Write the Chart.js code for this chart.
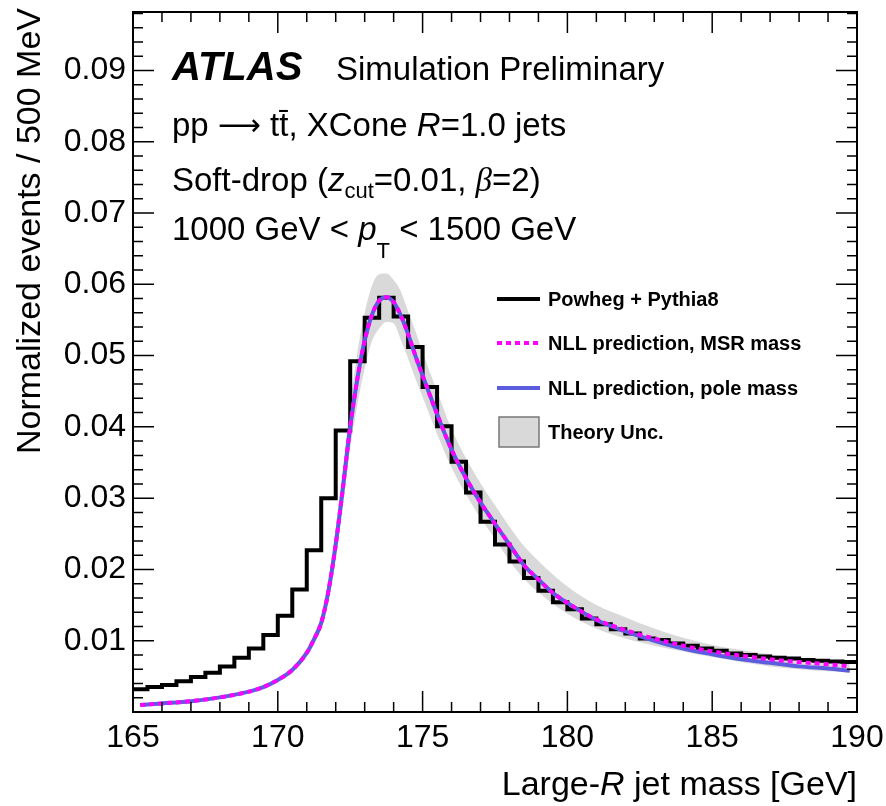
<!DOCTYPE html>
<html>
<head>
<meta charset="utf-8">
<script src="https://cdn.jsdelivr.net/npm/chart.js@4.4.1/dist/chart.umd.min.js"></script>
<style>
  html, body { margin: 0; padding: 0; background: #fff; }
  #wrap { width: 886px; height: 806px; }
</style>
</head>
<body>
<div id="wrap"><canvas id="chart" width="886" height="806"></canvas></div>
<script>
// Powheg + Pythia8 histogram, 0.5 GeV bins starting at 165 GeV
const binStart = 165;
const binWidth = 0.5;
const powhegValues = [
    0.0032, 0.0035, 0.0038, 0.0043, 0.0049, 0.0055, 0.0064, 0.0076, 0.0089, 0.0108,
    0.0135, 0.0172, 0.0227, 0.0300, 0.0395, 0.0492, 0.0553, 0.0581, 0.0555, 0.0512,
    0.0456, 0.0401, 0.0351, 0.0308, 0.0267, 0.0235, 0.0211, 0.0188, 0.0170, 0.0154,
    0.0144, 0.0131, 0.0123, 0.0116, 0.0110, 0.0103, 0.0101, 0.0096, 0.0093, 0.0089,
    0.0086, 0.0082, 0.0080, 0.0078, 0.0076, 0.0075, 0.0073, 0.0072, 0.0071, 0.0070
];

// NLL curves (x in GeV)
const curveMass = [
    165.25, 166, 167, 168, 169, 169.5, 170, 170.5, 171, 171.25, 171.5, 171.75, 172, 172.25,
    172.5, 172.75, 173, 173.25, 173.5, 173.75, 174, 174.25, 174.5, 174.75, 175, 175.5, 176,
    176.5, 177, 177.5, 178, 178.5, 179, 179.5, 180, 181, 182, 183, 184, 185, 186, 187, 188,
    189, 189.75
];
const nllPole = [
    0.00098, 0.00120, 0.00152, 0.00205, 0.00285, 0.0035, 0.0045, 0.0059, 0.0083, 0.0102,
    0.0125, 0.0170, 0.0235, 0.0315, 0.0400, 0.0468, 0.0521, 0.0557, 0.0577, 0.0582, 0.0575,
    0.0556, 0.0530, 0.0500, 0.0472, 0.0418, 0.0368, 0.0328, 0.0294, 0.0264, 0.0235,
    0.0206, 0.0186, 0.0167, 0.0153, 0.0129, 0.0113, 0.0100, 0.0089, 0.0081, 0.0074,
    0.0069, 0.0064, 0.0061, 0.0058
];
const nllMsr = [
    0.00098, 0.00120, 0.00152, 0.00205, 0.00285, 0.0035, 0.0045, 0.0059, 0.0083, 0.0102,
    0.0125, 0.0170, 0.0235, 0.0315, 0.0400, 0.0468, 0.0521, 0.0557, 0.0577, 0.0582, 0.0575,
    0.0556, 0.0530, 0.0500, 0.0472, 0.0418, 0.0368, 0.0328, 0.0294, 0.0264, 0.0235,
    0.0206, 0.0186, 0.0167, 0.0153, 0.0130, 0.0115, 0.0103, 0.0093, 0.0085, 0.0079,
    0.0074, 0.0070, 0.0067, 0.0064
];
// theory uncertainty band
const bandHigh = [
    0.00104, 0.00127, 0.00160, 0.00215, 0.00298, 0.0037, 0.0047, 0.0062, 0.0088, 0.0109,
    0.0135, 0.0185, 0.0258, 0.0342, 0.0432, 0.0505, 0.0560, 0.0598, 0.0614, 0.0615, 0.0606,
    0.0590, 0.0562, 0.0535, 0.0505, 0.0450, 0.0397, 0.0356, 0.0321, 0.0290, 0.0260,
    0.0233, 0.0212, 0.0193, 0.0176, 0.0150, 0.0133, 0.0117, 0.0104, 0.0094, 0.0087,
    0.0081, 0.0076, 0.0073, 0.0070
];
const bandLow = [
    0.00092, 0.00113, 0.00144, 0.00195, 0.00272, 0.0033, 0.0043, 0.0056, 0.0078, 0.0095,
    0.0116, 0.0156, 0.0216, 0.0290, 0.0370, 0.0432, 0.0482, 0.0520, 0.0538, 0.0547, 0.0545,
    0.0522, 0.0496, 0.0468, 0.0442, 0.0390, 0.0343, 0.0305, 0.0272, 0.0243, 0.0212,
    0.0187, 0.0168, 0.0152, 0.0138, 0.0117, 0.0103, 0.0093, 0.0085, 0.0077, 0.0070,
    0.0064, 0.0060, 0.0057, 0.0056
];

const xTickValues = [165, 170, 175, 180, 185, 190];

const SANS = "'Liberation Sans', Arial, Helvetica, sans-serif";
const SERIF = "'Liberation Serif', 'Times New Roman', serif";
const BAND_COLOR = 'rgb(217,217,217)';
const BLUE = 'rgb(92,92,222)';
const MAGENTA = 'rgb(255,0,255)';

// histogram points at left bin edges + closing point at the last edge
const histPoints = powhegValues.map((v, i) => ({ x: binStart + i * binWidth, y: v }));
histPoints.push({ x: binStart + powhegValues.length * binWidth, y: powhegValues[powhegValues.length - 1] });

function toPoints(xs, ys) {
    return xs.map((x, i) => ({ x: x, y: ys[i] }));
}

function richText(ctx, x, y, parts) {
    let cx = x;
    parts.forEach(p => {
        ctx.font = p.font;
        ctx.fillText(p.text, cx, y + (p.dy || 0));
        cx += ctx.measureText(p.text).width;
    });
    return cx;
}
function richWidth(ctx, parts) {
    let w = 0;
    parts.forEach(p => { ctx.font = p.font; w += ctx.measureText(p.text).width; });
    return w;
}

const decorPlugin = {
    id: 'decor',
    afterDatasetsDraw(chart) {
        const ctx = chart.ctx;
        const area = chart.chartArea;
        const xs = chart.scales.x;
        const ys = chart.scales.y;
        ctx.save();
        ctx.strokeStyle = '#000';
        // ticks on all four sides, pointing inwards
        ctx.lineWidth = 1.5;
        ctx.beginPath();
        for (let v = 165; v <= 190; v++) {
            const px = xs.getPixelForValue(v);
            const len = v % 5 === 0 ? 21 : 10;
            ctx.moveTo(px, area.bottom); ctx.lineTo(px, area.bottom - len);
            ctx.moveTo(px, area.top); ctx.lineTo(px, area.top + len);
        }
        for (let k = 0; k <= 49; k++) {
            const v = k * 0.002;
            if (v > ys.max) break;
            const py = ys.getPixelForValue(v);
            const len = k % 5 === 0 ? 21 : 10;
            ctx.moveTo(area.left, py); ctx.lineTo(area.left + len, py);
            ctx.moveTo(area.right, py); ctx.lineTo(area.right - len, py);
        }
        ctx.stroke();
        // frame
        ctx.lineWidth = 2;
        ctx.strokeRect(area.left, area.top, area.right - area.left, area.bottom - area.top);
        ctx.restore();
    },
    afterDraw(chart) {
        const ctx = chart.ctx;
        const area = chart.chartArea;
        ctx.save();
        ctx.fillStyle = '#000';
        ctx.textBaseline = 'alphabetic';
        ctx.textAlign = 'left';

        // ATLAS label and selection text
        const big = '33px ' + SANS;
        const it = 'italic 33px ' + SANS;
        richText(ctx, 172, 80, [{ text: 'ATLAS', font: 'italic bold 40px ' + SANS }]);
        richText(ctx, 336, 80, [{ text: 'Simulation Preliminary', font: big }]);
        richText(ctx, 172, 136, [
            { text: 'pp ', font: big },
            { text: '\u27F6', font: "30px 'DejaVu Sans', sans-serif", dy: -1 },
            { text: ' t', font: big },
            { text: 't\u0304', font: big },
            { text: ', XCone ', font: big },
            { text: 'R', font: it },
            { text: '=1.0 jets', font: big }
        ]);
        richText(ctx, 172, 191, [
            { text: 'Soft-drop (', font: big },
            { text: 'z', font: it },
            { text: 'cut', font: '22px ' + SANS, dy: 7 },
            { text: '=0.01, ', font: big },
            { text: '\u03B2', font: 'italic 33px ' + SERIF },
            { text: '=2)', font: big }
        ]);
        richText(ctx, 172, 240, [
            { text: '1000 GeV < ', font: big },
            { text: 'p', font: it },
            { text: 'T', font: '22px ' + SANS, dy: 18 },
            { text: ' < 1500 GeV', font: big }
        ]);

        // legend
        const legX0 = 497, legX1 = 540, textX = 548;
        const rows = [299, 343, 388, 432];
        ctx.lineWidth = 4;
        ctx.strokeStyle = '#000';
        ctx.beginPath(); ctx.moveTo(legX0, rows[0]); ctx.lineTo(legX1, rows[0]); ctx.stroke();
        ctx.strokeStyle = MAGENTA;
        ctx.setLineDash([5, 4]);
        ctx.beginPath(); ctx.moveTo(legX0, rows[1]); ctx.lineTo(legX1, rows[1]); ctx.stroke();
        ctx.setLineDash([]);
        ctx.strokeStyle = BLUE;
        ctx.beginPath(); ctx.moveTo(legX0, rows[2]); ctx.lineTo(legX1, rows[2]); ctx.stroke();
        ctx.fillStyle = BAND_COLOR;
        ctx.fillRect(499, 417, 40, 30);
        ctx.strokeStyle = '#777';
        ctx.lineWidth = 1.5;
        ctx.strokeRect(499, 417, 40, 30);
        ctx.fillStyle = '#000';
        ctx.font = 'bold 20px ' + SANS;
        ctx.textBaseline = 'middle';
        const legLabels = ['Powheg + Pythia8', 'NLL prediction, MSR mass', 'NLL prediction, pole mass', 'Theory Unc.'];
        legLabels.forEach((t, i) => ctx.fillText(t, textX, rows[i] + 1));
        ctx.textBaseline = 'alphabetic';

        // x-axis title, right aligned to the frame
        const xTitle = [
            { text: 'Large-', font: '34px ' + SANS },
            { text: 'R', font: 'italic 34px ' + SANS },
            { text: ' jet mass [GeV]', font: '34px ' + SANS }
        ];
        richText(ctx, area.right - richWidth(ctx, xTitle), 795, xTitle);

        // y-axis title, rotated, aligned to the top
        ctx.translate(40, 8);
        ctx.rotate(-Math.PI / 2);
        ctx.font = '34px ' + SANS;
        ctx.textAlign = 'right';
        ctx.fillText('Normalized events / 500 MeV', 0, 0);
        ctx.restore();
    }
};

new Chart(document.getElementById('chart'), {
    type: 'line',
    data: {
        datasets: [
            {
                label: 'NLL prediction, MSR mass',
                data: toPoints(curveMass, nllMsr),
                borderColor: MAGENTA,
                borderWidth: 4,
                borderDash: [5, 4],
                cubicInterpolationMode: 'monotone',
                pointRadius: 0,
                fill: false
            },
            {
                label: 'NLL prediction, pole mass',
                data: toPoints(curveMass, nllPole),
                borderColor: BLUE,
                borderWidth: 4,
                cubicInterpolationMode: 'monotone',
                pointRadius: 0,
                fill: false
            },
            {
                label: 'Powheg + Pythia8',
                data: histPoints,
                borderColor: '#000',
                borderWidth: 4,
                stepped: 'before',
                pointRadius: 0,
                fill: false
            },
            {
                label: 'band high',
                data: toPoints(curveMass, bandHigh),
                borderWidth: 0,
                borderColor: 'rgba(0,0,0,0)',
                cubicInterpolationMode: 'monotone',
                pointRadius: 0,
                fill: false
            },
            {
                label: 'Theory Unc.',
                data: toPoints(curveMass, bandLow),
                borderWidth: 0,
                borderColor: 'rgba(0,0,0,0)',
                backgroundColor: BAND_COLOR,
                cubicInterpolationMode: 'monotone',
                pointRadius: 0,
                fill: '-1'
            }
        ]
    },
    options: {
        responsive: false,
        animation: false,
        devicePixelRatio: 1,
        layout: { padding: { left: 0, top: 12, right: 29, bottom: 0 } },
        plugins: {
            legend: { display: false },
            tooltip: { enabled: false }
        },
        scales: {
            x: {
                type: 'linear',
                min: 165,
                max: 190,
                afterFit: s => { s.height = 94; s.paddingLeft = 0; s.paddingRight = 0; },
                afterBuildTicks: s => { s.ticks = xTickValues.map(v => ({ value: v })); },
                grid: { display: false, drawTicks: false },
                border: { display: false },
                ticks: {
                    autoSkip: false,
                    maxRotation: 0,
                    padding: 7,
                    color: '#000',
                    font: { family: SANS, size: 32 },
                    callback: v => String(v)
                }
            },
            y: {
                type: 'linear',
                min: 0,
                max: 0.0982,
                afterFit: s => { s.width = 133; s.paddingTop = 0; s.paddingBottom = 0; },
                grid: { display: false, drawTicks: false },
                border: { display: false },
                ticks: {
                    stepSize: 0.01,
                    padding: 7,
                    color: '#000',
                    font: { family: SANS, size: 32 },
                    callback: v => (v > 0.005 && v < 0.095) ? v.toFixed(2) : ''
                }
            }
        }
    },
    plugins: [decorPlugin]
});
</script>
</body>
</html>
